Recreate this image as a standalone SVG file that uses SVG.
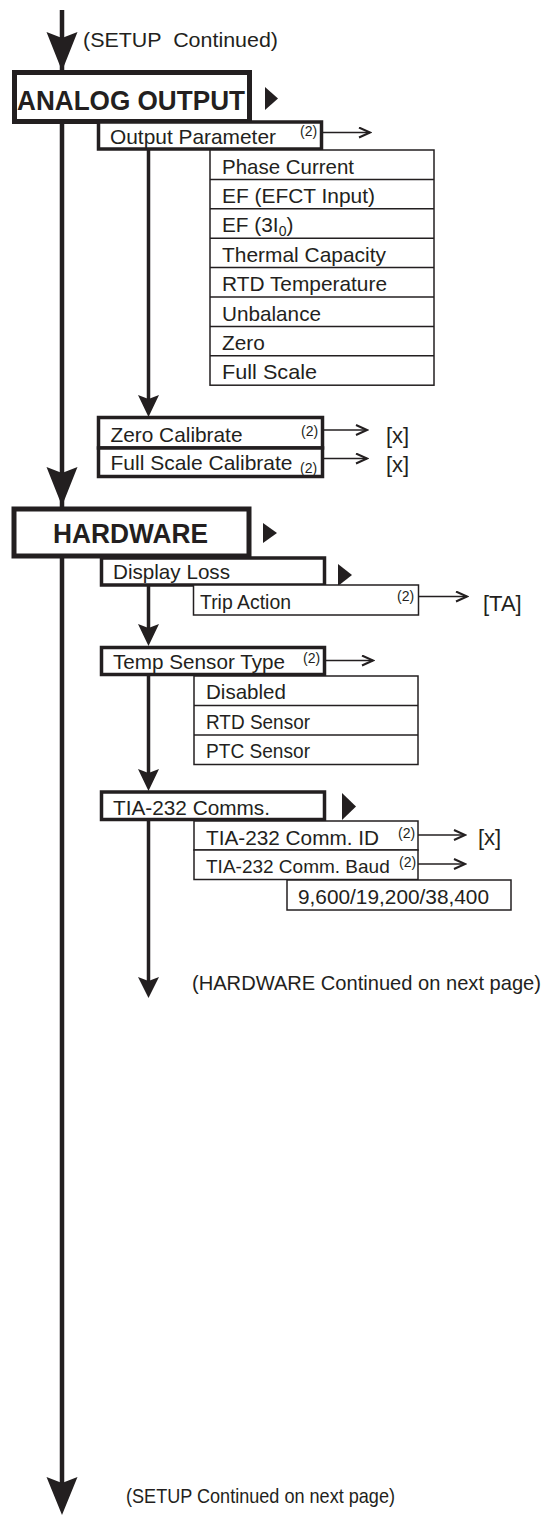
<svg xmlns="http://www.w3.org/2000/svg" width="550" height="1518" viewBox="0 0 550 1518">
<style>
text{font-family:"Liberation Sans",Arial,sans-serif;fill:#231f20}
.t{font-size:20.8px}
.b{font-size:27px;font-weight:bold}
.s{font-size:14px}
.br{font-size:22px}
.sub{font-size:14px}
.big{fill:#fff;stroke:#231f20;stroke-width:5}
.thick{fill:#fff;stroke:#231f20;stroke-width:3.5}
.thin{fill:#fff;stroke:#231f20;stroke-width:1.5}
.ln{fill:none;stroke:#231f20;stroke-width:1.5}
.main{fill:none;stroke:#231f20;stroke-width:4.5}
.sec{fill:none;stroke:#231f20;stroke-width:3.5}
.ah{fill:#231f20;stroke:none}
</style>
<defs>
<marker id="open" markerWidth="14" markerHeight="12" refX="12" refY="6" orient="auto" markerUnits="userSpaceOnUse">
<path d="M1,1 L12,6 L1,11" fill="none" stroke="#231f20" stroke-width="2"/>
</marker>
</defs>

<g id="connectors">
<line class="main" x1="62" y1="10" x2="62" y2="1490"/>
<path class="ah" d="M46.5,32 L62,38 L77.5,32 L62,71 Z"/>
<path class="ah" d="M46.5,467 L62,473 L77.5,467 L62,506 Z"/>
<path class="ah" d="M46.5,1477 L62,1483 L77.5,1477 L62,1515 Z"/>
<line class="sec" x1="148.5" y1="149" x2="148.5" y2="400"/>
<path class="ah" d="M138,395 L148.5,399 L159,395 L148.5,417 Z"/>
<line class="sec" x1="148.5" y1="585" x2="148.5" y2="630"/>
<path class="ah" d="M138,624 L148.5,628 L159,624 L148.5,646 Z"/>
<line class="sec" x1="148.5" y1="674" x2="148.5" y2="775"/>
<path class="ah" d="M138,769 L148.5,773 L159,769 L148.5,791 Z"/>
<line class="sec" x1="148.5" y1="819" x2="148.5" y2="983"/>
<path class="ah" d="M138,977 L148.5,981 L159,977 L148.5,998 Z"/>
<line class="ln" x1="322" y1="132.5" x2="370" y2="132.5" marker-end="url(#open)"/>
<line class="ln" x1="322" y1="430" x2="367" y2="430" marker-end="url(#open)"/>
<line class="ln" x1="322" y1="458.5" x2="367" y2="458.5" marker-end="url(#open)"/>
<line class="ln" x1="418" y1="596.5" x2="467" y2="596.5" marker-end="url(#open)"/>
<line class="ln" x1="325" y1="660.5" x2="373" y2="660.5" marker-end="url(#open)"/>
<line class="ln" x1="418" y1="835" x2="465" y2="835" marker-end="url(#open)"/>
<line class="ln" x1="418" y1="864" x2="465" y2="864" marker-end="url(#open)"/>
</g>

<text class="t" x="83" y="47" xml:space="preserve" textLength="195" lengthAdjust="spacingAndGlyphs">(SETUP  Continued)</text>

<g id="analog-output">
<rect class="big" x="14.5" y="72.5" width="235" height="49"/>
<text class="b" x="17" y="110" textLength="228" lengthAdjust="spacingAndGlyphs">ANALOG OUTPUT</text>
<path class="ah" d="M265,87 L278,98.5 L265,110 Z"/>
</g>

<g id="output-parameter">
<rect class="thick" x="98.5" y="122" width="223" height="27"/>
<text class="t" x="110" y="144" textLength="166" lengthAdjust="spacingAndGlyphs">Output Parameter</text>
<text class="s" x="300" y="135.5">(2)</text>
</g>

<g id="output-parameter-options">
<rect class="thin" x="210" y="150" width="224" height="235.2"/>
<line class="ln" x1="210" y1="179.4" x2="434" y2="179.4"/>
<line class="ln" x1="210" y1="208.8" x2="434" y2="208.8"/>
<line class="ln" x1="210" y1="238.2" x2="434" y2="238.2"/>
<line class="ln" x1="210" y1="267.6" x2="434" y2="267.6"/>
<line class="ln" x1="210" y1="297" x2="434" y2="297"/>
<line class="ln" x1="210" y1="326.4" x2="434" y2="326.4"/>
<line class="ln" x1="210" y1="355.8" x2="434" y2="355.8"/>
<text class="t" x="222" y="173.5" textLength="132" lengthAdjust="spacingAndGlyphs">Phase Current</text>
<text class="t" x="222" y="202.9" textLength="153" lengthAdjust="spacingAndGlyphs">EF (EFCT Input)</text>
<text class="t" x="222" y="232.3">EF (3I<tspan class="sub" dy="4">0</tspan><tspan dy="-4">)</tspan></text>
<text class="t" x="222" y="261.7" textLength="164" lengthAdjust="spacingAndGlyphs">Thermal Capacity</text>
<text class="t" x="222" y="291.1" textLength="165" lengthAdjust="spacingAndGlyphs">RTD Temperature</text>
<text class="t" x="222" y="320.5" textLength="99" lengthAdjust="spacingAndGlyphs">Unbalance</text>
<text class="t" x="222" y="349.9">Zero</text>
<text class="t" x="222" y="379.3" textLength="95" lengthAdjust="spacingAndGlyphs">Full Scale</text>
</g>

<g id="zero-calibrate">
<rect class="thick" x="98.5" y="417.5" width="224" height="30.5"/>
<text class="t" x="110.5" y="441.5" textLength="132" lengthAdjust="spacingAndGlyphs">Zero Calibrate</text>
<text class="s" x="301" y="435.5">(2)</text>
<text class="br" x="386" y="443">[x]</text>
</g>

<g id="full-scale-calibrate">
<rect class="thick" x="98.5" y="448" width="224" height="28.5"/>
<text class="t" x="110.5" y="470" textLength="182" lengthAdjust="spacingAndGlyphs">Full Scale Calibrate</text>
<text class="s" x="300" y="472.5">(2)</text>
<text class="br" x="386" y="471.5">[x]</text>
</g>

<g id="hardware">
<rect class="big" x="14" y="509" width="235" height="47"/>
<text class="b" x="53" y="543" textLength="155" lengthAdjust="spacingAndGlyphs">HARDWARE</text>
<path class="ah" d="M263,523 L277,533 L263,543 Z"/>
</g>

<g id="display-loss">
<rect class="thick" x="101.5" y="558" width="223" height="27"/>
<text class="t" x="113" y="578.5" textLength="117" lengthAdjust="spacingAndGlyphs">Display Loss</text>
<path class="ah" d="M338,564 L352,575 L338,586 Z"/>
</g>

<g id="trip-action">
<rect class="thin" x="193.5" y="585" width="225" height="30"/>
<text class="t" x="200" y="609" textLength="91" lengthAdjust="spacingAndGlyphs">Trip Action</text>
<text class="s" x="397" y="600.5">(2)</text>
<text class="br" x="483" y="610.5">[TA]</text>
</g>

<g id="temp-sensor-type">
<rect class="thick" x="101.5" y="647.5" width="223" height="27"/>
<text class="t" x="113" y="669" textLength="172" lengthAdjust="spacingAndGlyphs">Temp Sensor Type</text>
<text class="s" x="303" y="662.5">(2)</text>
</g>

<g id="temp-sensor-options">
<rect class="thin" x="194" y="676" width="224" height="88.5"/>
<line class="ln" x1="194" y1="705.5" x2="418" y2="705.5"/>
<line class="ln" x1="194" y1="735" x2="418" y2="735"/>
<text class="t" x="206" y="699" textLength="80" lengthAdjust="spacingAndGlyphs">Disabled</text>
<text class="t" x="206" y="728.5" textLength="104" lengthAdjust="spacingAndGlyphs">RTD Sensor</text>
<text class="t" x="206" y="758" textLength="104" lengthAdjust="spacingAndGlyphs">PTC Sensor</text>
</g>

<g id="tia-232-comms">
<rect class="thick" x="101.5" y="792" width="223" height="27.5"/>
<text class="t" x="113" y="814.5" textLength="157" lengthAdjust="spacingAndGlyphs">TIA-232 Comms.</text>
<path class="ah" d="M342,793 L356,806.5 L342,820 Z"/>
</g>

<g id="tia-232-comm-id">
<rect class="thin" x="194" y="821" width="224" height="29"/>
<text class="t" x="206" y="845" textLength="173" lengthAdjust="spacingAndGlyphs">TIA-232 Comm. ID</text>
<text class="s" x="398" y="837.5">(2)</text>
<text class="br" x="478" y="845">[x]</text>
</g>

<g id="tia-232-comm-baud">
<rect class="thin" x="194" y="850" width="224" height="29.5"/>
<text x="206" y="873" style="font-size:19px">TIA-232 Comm. Baud</text>
<text class="s" x="399" y="866.5">(2)</text>
</g>

<g id="baud-options">
<rect class="thin" x="287" y="880" width="224" height="30"/>
<text class="t" x="298" y="904" textLength="191" lengthAdjust="spacingAndGlyphs">9,600/19,200/38,400</text>
</g>

<text class="t" x="192" y="990" textLength="349" lengthAdjust="spacingAndGlyphs">(HARDWARE Continued on next page)</text>
<text class="t" x="126" y="1503" textLength="269" lengthAdjust="spacingAndGlyphs">(SETUP Continued on next page)</text>
</svg>
